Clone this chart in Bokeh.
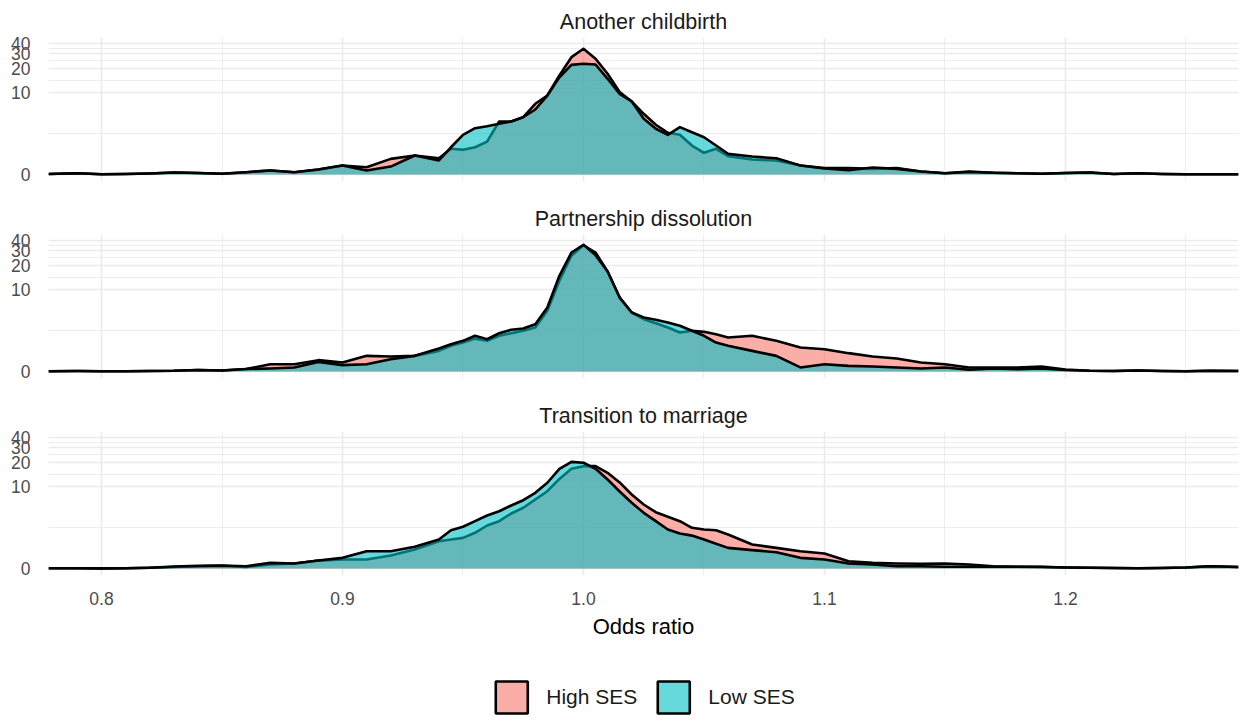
import numpy as np
from bokeh.plotting import figure
from bokeh.models import (Range1d, FixedTicker, Grid, Legend, LegendItem,
                          ColumnDataSource, CustomJSTickFormatter)
from bokeh.layouts import column
from bokeh.embed import file_html
from bokeh.resources import INLINE

# ---------------- data (density values) ----------------
odds = [0.778, 0.79, 0.80, 0.81, 0.82, 0.83, 0.84, 0.85, 0.86, 0.87, 0.88, 0.89, 0.90, 0.91, 0.92, 0.93, 0.94,
        0.945, 0.95, 0.955, 0.96, 0.965, 0.97, 0.975, 0.98, 0.985, 0.99, 0.995, 1.00, 1.005, 1.01, 1.015, 1.02,
        1.025, 1.03, 1.035, 1.04, 1.045, 1.05, 1.055, 1.06,
        1.07, 1.08, 1.09, 1.10, 1.11, 1.12, 1.13, 1.14, 1.15, 1.16, 1.17, 1.18, 1.19, 1.20, 1.21, 1.22, 1.23,
        1.24, 1.25, 1.26,
        1.2718]

childbirth_high = [0.028, 0.068, 0.017, 0.028, 0.056, 0.113, 0.085, 0.039, 0.13, 0.23, 0.13, 0.28, 0.51, 0.41, 0.91, 1.12, 0.95,
                   1.58, 1.51, 1.69, 2.13, 4.22, 4.22, 4.82, 7.19, 9.14, 16.2, 27.2, 34.5, 26.0, 17.0, 10.1, 7.7,
                   5.35, 3.81, 2.93, 2.73, 1.82, 1.30, 1.58, 1.08,
                   0.87, 0.81, 0.51, 0.36, 0.36, 0.32, 0.36, 0.17, 0.073, 0.17, 0.096, 0.073, 0.039, 0.085, 0.113, 0.028, 0.068,
                   0.028, 0.017, 0.017,
                   0.017]
childbirth_low = [0.028, 0.068, 0.017, 0.028, 0.056, 0.113, 0.085, 0.039, 0.13, 0.23, 0.13, 0.28, 0.51, 0.23, 0.45, 1.12, 0.81,
                  1.69, 2.73, 3.41, 3.64, 3.93, 4.22, 4.82, 6.08, 9.14, 15.4, 21.9, 22.6, 22.1, 14.75, 9.6, 7.7,
                  4.59, 3.35, 2.73, 3.53, 2.99, 2.51, 1.82, 1.23,
                  1.06, 0.95, 0.51, 0.34, 0.24, 0.40, 0.32, 0.17, 0.073, 0.14, 0.096, 0.073, 0.039, 0.085, 0.113, 0.028, 0.068,
                  0.028, 0.017, 0.017,
                  0.017]

dissolution_high = [0.017, 0.028, 0.017, 0.017, 0.028, 0.039, 0.085, 0.056, 0.14, 0.41, 0.41, 0.65, 0.51, 0.91, 0.87, 0.91, 1.23,
                    1.58, 1.82, 2.13, 1.95, 2.37, 2.60, 2.83, 3.16, 5.35, 12.8, 26.0, 35.0, 28.5, 16.7, 7.9, 5.08,
                    4.13, 3.64, 3.16, 2.67, 2.83, 2.73, 2.51, 2.22,
                    2.37, 1.95, 1.46, 1.34, 1.08, 0.87, 0.75, 0.51, 0.41, 0.23, 0.23, 0.23, 0.28, 0.11, 0.039, 0.028, 0.056,
                    0.028, 0.017, 0.039,
                    0.028]
dissolution_low = [0.017, 0.028, 0.017, 0.017, 0.028, 0.039, 0.085, 0.056, 0.14, 0.17, 0.23, 0.55, 0.36, 0.41, 0.71, 0.91, 1.39,
                   1.69, 1.95, 2.37, 2.08, 2.60, 2.93, 3.06, 3.53, 5.90, 14.75, 28.5, 35.5, 26.5, 16.7, 7.9, 5.08,
                   4.36, 4.06, 3.72, 3.35, 2.83, 2.37, 1.82, 1.58,
                   1.23, 0.91, 0.23, 0.41, 0.32, 0.28, 0.23, 0.17, 0.23, 0.096, 0.17, 0.13, 0.17, 0.085, 0.039, 0.028, 0.056,
                   0.028, 0.017, 0.039,
                   0.028]

marriage_high = [0.017, 0.017, 0.006, 0.017, 0.039, 0.085, 0.13, 0.15, 0.085, 0.23, 0.28, 0.45, 0.51, 0.51, 0.75, 1.12, 1.69,
                 1.82, 1.95, 2.37, 3.06, 3.53, 4.49, 5.35, 6.84, 8.71, 12.4, 16.5, 17.8, 17.8, 14.75, 11.2, 7.92,
                 5.90, 4.68, 4.06, 3.53, 2.83, 2.67, 2.60, 2.22,
                 1.46, 1.23, 1.01, 0.87, 0.41, 0.32, 0.28, 0.27, 0.28, 0.23, 0.13, 0.096, 0.096, 0.056, 0.039, 0.028, 0.017,
                 0.028, 0.056, 0.13,
                 0.085]
marriage_low = [0.017, 0.017, 0.006, 0.017, 0.039, 0.113, 0.15, 0.17, 0.13, 0.32, 0.28, 0.45, 0.61, 1.01, 1.01, 1.30, 1.82,
                2.60, 2.93, 3.53, 4.23, 4.82, 5.73, 6.70, 8.31, 11.1, 16.5, 20.1, 19.6, 16.5, 12.2, 8.64, 6.21,
                4.59, 3.53, 2.67, 2.31, 2.13, 1.82, 1.51, 1.23,
                1.08, 0.95, 0.61, 0.51, 0.28, 0.23, 0.13, 0.13, 0.096, 0.096, 0.096, 0.096, 0.085, 0.056, 0.039, 0.028, 0.017,
                0.028, 0.056, 0.13,
                0.085]

panel_titles = ["Another childbirth", "Partnership dissolution", "Transition to marriage"]
series_labels = ["High SES", "Low SES"]
x_breaks = [0.8, 0.9, 1.0, 1.1, 1.2]
x_minor = [0.85, 0.95, 1.05, 1.15, 1.25]
y_breaks = [0, 10, 20, 30, 40]

# ---------------- styling ----------------
HIGH_COL = "#F8766D"
LOW_COL = "#00BFC4"
FONT = "Liberation Sans"
GRID_COL = "#EBEBEB"
LINE_W = 2.6


def tr(v):
    # pseudo-log (asinh) transform used by the y scale
    return np.arcsinh(np.asarray(v, dtype=float) / 2.0)


y_major = [float(t) for t in tr(y_breaks)]
y_minor = [(y_major[i] + y_major[i + 1]) / 2 for i in range(len(y_major) - 1)]

data = [(childbirth_high, childbirth_low),
        (dissolution_high, dissolution_low),
        (marriage_high, marriage_low)]

figs = []
for i, (title, (hi, lo)) in enumerate(zip(panel_titles, data)):
    last = (i == 2)
    p = figure(width=1241, height=279 if last else 197,
               x_range=Range1d(0.778, 1.2718), y_range=Range1d(-0.197, 3.859),
               output_backend="svg", toolbar_location=None,
               x_axis_location="below" if last else None,
               min_border_left=48, min_border_right=3,
               min_border_top=37, min_border_bottom=98 if last else 16,
               title=title)
    p.outline_line_color = None
    p.background_fill_color = "white"
    p.border_fill_color = "white"
    p.title.align = "center"
    p.title.text_font = FONT
    p.title.text_font_size = "21.5px"
    p.title.text_font_style = "normal"
    p.title.text_color = "#1A1A1A"
    p.title.standoff = 8

    p.xgrid.visible = False
    p.ygrid.visible = False
    p.add_layout(Grid(dimension=0, ticker=FixedTicker(ticks=x_breaks, minor_ticks=x_minor),
                      grid_line_color=GRID_COL, grid_line_width=1.6,
                      minor_grid_line_color=GRID_COL, minor_grid_line_width=0.9))
    p.add_layout(Grid(dimension=1, ticker=FixedTicker(ticks=y_major, minor_ticks=y_minor),
                      grid_line_color=GRID_COL, grid_line_width=1.6,
                      minor_grid_line_color=GRID_COL, minor_grid_line_width=0.9))

    ya = p.yaxis[0]
    ya.ticker = FixedTicker(ticks=y_major)
    ya.formatter = CustomJSTickFormatter(code="return String(Math.round(2*Math.sinh(tick)));")
    ya.axis_line_color = None
    ya.major_tick_line_color = None
    ya.minor_tick_line_color = None
    ya.major_label_standoff = 12
    ya.major_label_text_font = FONT
    ya.major_label_text_font_size = "17.5px"
    ya.major_label_text_color = "#4D4D4D"

    if last:
        xa = p.xaxis[0]
        xa.ticker = FixedTicker(ticks=x_breaks)
        xa.formatter = CustomJSTickFormatter(code="return tick.toFixed(1);")
        xa.axis_line_color = None
        xa.major_tick_line_color = None
        xa.minor_tick_line_color = None
        xa.major_label_standoff = 10
        xa.major_label_text_font = FONT
        xa.major_label_text_font_size = "17.5px"
        xa.major_label_text_color = "#4D4D4D"
        xa.axis_label = "Odds ratio"
        xa.axis_label_standoff = 6
        xa.axis_label_text_font = FONT
        xa.axis_label_text_font_size = "22px"
        xa.axis_label_text_font_style = "normal"
        xa.axis_label_text_color = "#000000"

    src = ColumnDataSource(dict(x=odds, z=[0.0] * len(odds), yh=tr(hi), yl=tr(lo)))
    p.varea(x="x", y1="z", y2="yh", source=src, fill_color=HIGH_COL, fill_alpha=0.6)
    p.line(x="x", y="yh", source=src, line_color="black", line_width=LINE_W, line_join="round")
    p.varea(x="x", y1="z", y2="yl", source=src, fill_color=LOW_COL, fill_alpha=0.6)
    p.line(x="x", y="yl", source=src, line_color="black", line_width=LINE_W, line_join="round")
    figs.append(p)

# ---------------- legend ----------------
pl = figure(width=1241, height=48, x_range=Range1d(0, 1), y_range=Range1d(0, 1),
            x_axis_location=None, y_axis_location=None, toolbar_location=None,
            output_backend="svg", min_border_left=44, min_border_right=0,
            min_border_top=0, min_border_bottom=0)
pl.outline_line_color = None
pl.grid.visible = False
# key swatches only: drawn off the visible range, shown through the legend
key_src = ColumnDataSource(dict(l=[-3.0], r=[-2.0], t=[-2.0], b=[-3.0]))
r_hi = pl.quad(left="l", right="r", top="t", bottom="b", source=key_src,
               fill_color=HIGH_COL, fill_alpha=0.6, line_color="black", line_width=2.6)
r_lo = pl.quad(left="l", right="r", top="t", bottom="b", source=key_src,
               fill_color=LOW_COL, fill_alpha=0.6, line_color="black", line_width=2.6)
legend = Legend(items=[LegendItem(label=series_labels[0], renderers=[r_hi]),
                       LegendItem(label=series_labels[1], renderers=[r_lo])],
                orientation="horizontal", location="center",
                glyph_width=40, glyph_height=40, label_standoff=15, spacing=16,
                padding=0, margin=0, border_line_color=None, background_fill_alpha=0,
                label_text_font=FONT, label_text_font_size="21px", label_text_color="#1A1A1A")
pl.add_layout(legend)
figs.append(pl)

layout = column(*figs, spacing=0)
open("out.html", "w").write(file_html(layout, INLINE))
